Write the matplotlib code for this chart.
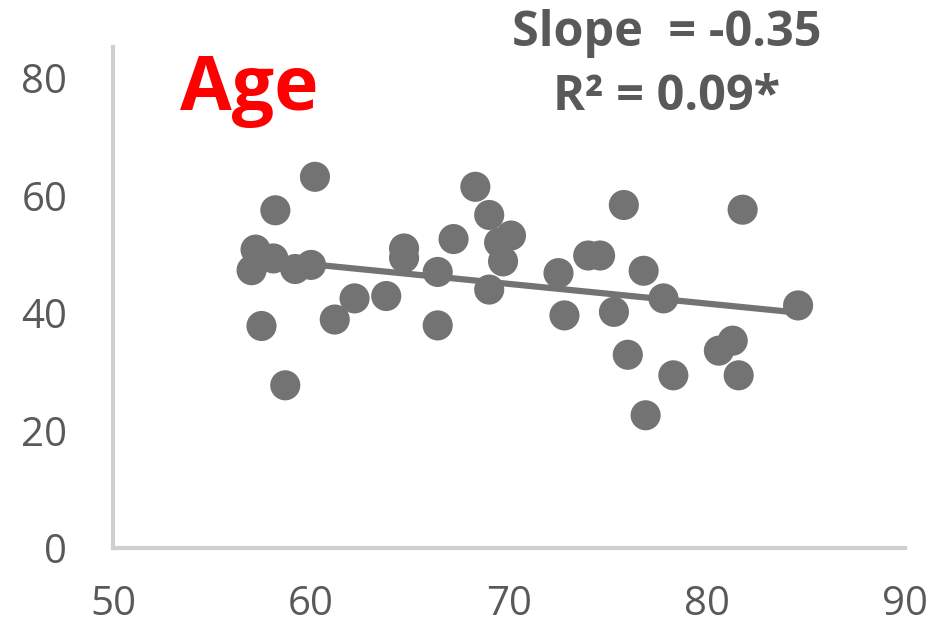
import numpy as np
import matplotlib
matplotlib.use("Agg")
import matplotlib.pyplot as plt

x_vals = [57.0, 57.2, 57.5, 58.2, 58.1, 58.7, 59.2, 60.0, 60.2, 61.2, 62.2, 63.8,
          64.7, 64.7, 66.4, 66.4, 67.2, 68.3, 69.0, 69.0, 69.5, 69.7, 70.1, 72.5,
          72.8, 74.0, 74.6, 75.3, 75.8, 76.0, 76.8, 76.9, 77.8, 78.3, 80.6, 81.3,
          81.6, 81.8, 84.6]
y_vals = [47.3, 50.8, 37.8, 57.5, 49.3, 27.7, 47.5, 48.2, 63.2, 38.9, 42.5, 42.9,
          51.0, 49.4, 47.0, 37.9, 52.6, 61.5, 56.7, 44.0, 52.0, 48.8, 53.2, 46.8,
          39.6, 49.8, 49.8, 40.2, 58.4, 32.9, 47.2, 22.6, 42.5, 29.4, 33.6, 35.3,
          29.4, 57.6, 41.3]

x_ticks = [50, 60, 70, 80, 90]
y_ticks = [0, 20, 40, 60, 80]
title_text = "Age"
stats_text = ["Slope  = -0.35", "R\u00b2 = 0.09*"]

fig = plt.figure(figsize=(9.47, 6.24), dpi=100)
ax = fig.add_axes([113/947, 1-548/624, (905-113)/947, (548-47)/624])

x = np.array(x_vals); y = np.array(y_vals)
coef = np.polyfit(x, y, 1)
xl = np.array([x.min(), x.max()])
ax.plot(xl, np.polyval(coef, xl), color="#737373", lw=4.5, zorder=2, solid_capstyle="butt")
ax.scatter(x, y, s=470, color="#737373", edgecolors="none", zorder=3)

ax.set_xlim(50, 90)
ax.set_ylim(0, 85.3)
ax.set_xticks(x_ticks)
ax.set_yticks(y_ticks)
for s in ["top", "right"]:
    ax.spines[s].set_visible(False)
for s in ["left", "bottom"]:
    ax.spines[s].set_color("#d0d0d0")
    ax.spines[s].set_linewidth(3)
ax.tick_params(length=0, labelsize=29, labelcolor="#595959")
ax.tick_params(axis="y", pad=33)
ax.tick_params(axis="x", pad=26)
for lab in ax.get_xticklabels() + ax.get_yticklabels():
    lab.set_family("Open Sans")

fig.text(249/947, 1-90/624, title_text, color="#ff0000", fontsize=54, fontweight="bold",
         family="Open Sans", ha="center", va="center")
fig.text(667/947, 1-33/624, stats_text[0], color="#595959", fontsize=35, fontweight="bold",
         family="Open Sans", ha="center", va="center")
fig.text(667/947, 1-98/624, stats_text[1], color="#595959", fontsize=35, fontweight="bold",
         family="Open Sans", ha="center", va="center")

fig.savefig("out.png", dpi=100)
